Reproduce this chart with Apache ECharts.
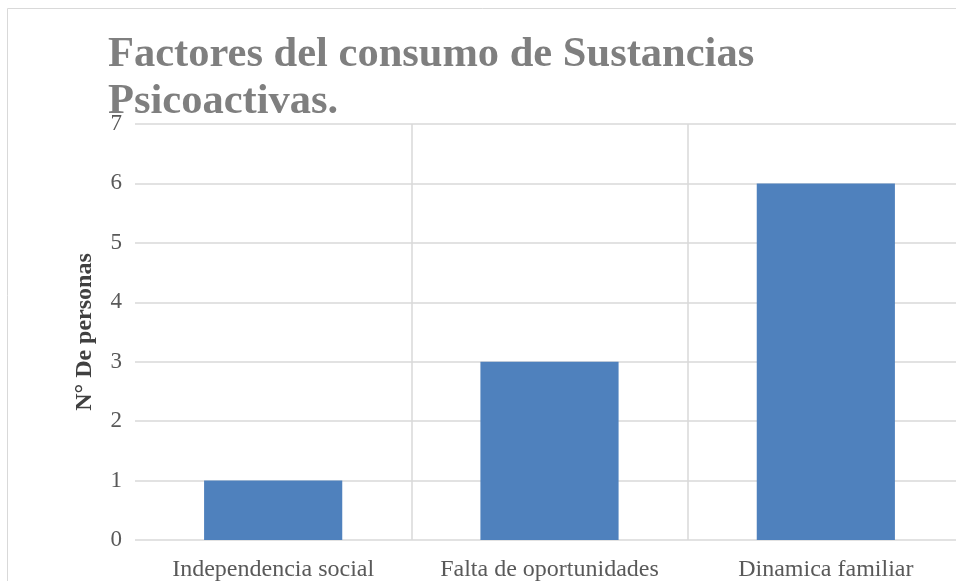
<!DOCTYPE html>
<html>
<head>
<meta charset="utf-8">
<script src="https://cdn.jsdelivr.net/npm/echarts@6/dist/echarts.min.js"></script>
<style>
html,body{margin:0;padding:0;background:#fff;}
#chart{width:956px;height:581px;}
</style>
</head>
<body>
<div id="chart"></div>
<script>
var categories = ['Independencia social', 'Falta de oportunidades', 'Dinamica familiar'];
var personas = [1, 3, 6];
var yTicks = [0, 1, 2, 3, 4, 5, 6, 7];

var chart = echarts.init(document.getElementById('chart'));

chart.setOption({
    animation: false,
    graphic: [{
        type: 'rect',
        shape: {x: 7.5, y: 8.5, width: 980, height: 620},
        style: {fill: 'none', stroke: '#d9d9d9', lineWidth: 1}
    }],
    title: {
        text: 'Factores del consumo de Sustancias\nPsicoactivas.',
        left: 108,
        top: 32,
        padding: 0,
        textStyle: {
            fontFamily: 'Liberation Serif',
            fontWeight: 'bold',
            fontSize: 42.5,
            lineHeight: 47,
            color: '#7f7f7f'
        }
    },
    grid: {
        left: 135,
        width: 829,
        top: 124,
        bottom: 41,
        containLabel: false,
        outerBoundsMode: 'none'
    },
    xAxis: {
        type: 'category',
        data: categories,
        axisLine: {show: false},
        axisTick: {show: false},
        axisLabel: {
            interval: 0,
            fontFamily: 'Liberation Serif',
            fontSize: 24,
            color: '#595959',
            margin: 18
        },
        splitLine: {
            show: true,
            interval: 0,
            showMinLine: false,
            lineStyle: {color: '#d9d9d9', width: 1.5}
        }
    },
    yAxis: {
        type: 'value',
        min: yTicks[0],
        max: yTicks[yTicks.length - 1],
        interval: 1,
        name: 'N° De personas',
        nameLocation: 'middle',
        nameGap: 38,
        nameTextStyle: {
            fontFamily: 'Liberation Serif',
            fontWeight: 'bold',
            fontSize: 24,
            color: '#404040'
        },
        axisLine: {show: false},
        axisTick: {show: false},
        axisLabel: {
            fontFamily: 'Liberation Serif',
            fontSize: 23,
            color: '#595959',
            margin: 13
        },
        splitLine: {
            lineStyle: {color: '#d9d9d9', width: 1.5}
        }
    },
    series: [{
        type: 'bar',
        data: personas,
        barWidth: '50%',
        itemStyle: {color: '#4f81bd'}
    }]
});
</script>
</body>
</html>
